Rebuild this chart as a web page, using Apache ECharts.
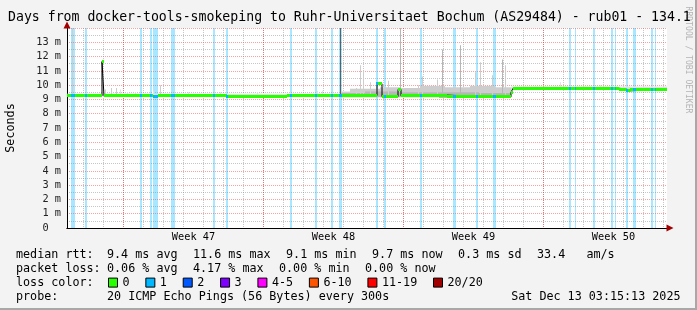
<!DOCTYPE html>
<html><head><meta charset="utf-8">
<script src="https://cdn.jsdelivr.net/npm/echarts@6/dist/echarts.min.js"></script>
<style>html,body{margin:0;padding:0;background:#f3f3f3}#c{width:697px;height:310px}</style>
</head><body><div id="c"></div>
<script>
// ---------- data (x = days since the left edge of the 30-day window) ----------
const titleText = 'Days from docker-tools-smokeping to Ruhr-Universitaet Bochum (AS29484) - rub01 - 134.1';
const xMax = 30;
const yMax = 14;
const firstMidnight = 0.825;
const sundays = [2.825, 9.825, 16.825, 23.825];
const weekNames = ['Week 47', 'Week 48', 'Week 49', 'Week 50'];
const weekCenters = [6.325, 13.325, 20.325, 27.325];

// median rtt (ms) as [startDay, endDay, value]
const medianSegs = [
  [0, 1.75, 9.25], [1.75, 1.85, 11.65], [1.85, 4.3, 9.25], [4.3, 4.55, 9.22], [4.55, 8.0, 9.26],
  [8.0, 11.0, 9.23], [11.0, 13.65, 9.25], [13.65, 15.5, 9.27], [15.5, 15.75, 10.1], [15.75, 16.55, 9.2],
  [16.55, 16.7, 9.7], [16.7, 18.0, 9.25], [18.0, 19.0, 9.3], [19.0, 21.0, 9.2], [21.0, 22.2, 9.18],
  [22.2, 22.3, 9.5], [22.3, 27.6, 9.78], [27.6, 28.0, 9.72], [28.0, 28.15, 9.6], [28.15, 30, 9.72]
];
// packet loss periods [startDay, endDay, lost pings of 20]
const lossBands = [
  [0.2, 0.4, 1], [0.9, 1.0, 1], [3.65, 3.75, 1], [4.15, 4.25, 1], [4.3, 4.55, 1], [5.2, 5.4, 1],
  [7.3, 7.4, 1], [7.95, 8.05, 1], [11.15, 11.25, 1], [12.4, 12.5, 1], [13.2, 13.3, 1], [13.6, 13.75, 1],
  [15.45, 15.55, 1], [15.85, 15.95, 1], [17.65, 17.75, 1], [19.3, 19.45, 1], [20.45, 20.55, 1], [21.3, 21.45, 1],
  [25.1, 25.2, 1], [25.4, 25.45, 1], [26.3, 26.4, 1], [27.2, 27.3, 1], [27.4, 27.45, 1], [27.95, 28.05, 1],
  [28.3, 28.45, 1], [29.2, 29.3, 1], [29.4, 29.45, 1]
];
// smoke (ping spread) bands [startDay, endDay, lowMs, highMs, shade]
const smokeSpans = [
  [0, 13.65, 9.2, 9.4, 0],
  [13.65, 14.15, 9.2, 9.55, 1], [14.15, 15.65, 9.2, 9.75, 1], [15.65, 16.65, 9.15, 9.85, 1], [16.65, 17.65, 9.2, 9.8, 1],
  [17.65, 18.9, 9.2, 9.95, 1], [18.9, 20.15, 9.15, 9.85, 1], [20.15, 21.4, 9.15, 9.95, 1], [21.4, 22.2, 9.1, 9.85, 1],
  [13.65, 14.9, 9.15, 9.45, 2], [14.9, 16.6, 9.15, 9.55, 2], [16.6, 18.6, 9.15, 9.5, 2], [18.6, 20.6, 9.1, 9.5, 2], [20.6, 22.2, 9.1, 9.45, 2],
  [22.2, 30, 9.7, 9.9, 0]
];
// smoke spikes [day, highMs, shade]
const smokeSpikes = [
  [0.25, 14, 1], [1.9, 9.7, 1], [2.2, 9.8, 1], [2.45, 9.8, 1], [2.65, 9.7, 0], [3.0, 9.5, 0], [3.4, 9.5, 0],
  [4.3, 9.6, 0], [4.65, 10.0, 1], [6.05, 9.5, 0], [7.65, 9.5, 0], [9.5, 9.5, 0], [11.15, 9.5, 0], [12.5, 9.6, 0],
  [12.75, 9.6, 0], [13.65, 14, 3], [14.45, 9.8, 1], [14.65, 11.4, 1], [14.8, 11.0, 1], [15.15, 10.2, 1],
  [16.05, 10.3, 1], [16.65, 14, 2], [17.55, 10.0, 1], [17.75, 10.6, 1], [18.5, 10.4, 1], [18.75, 12.5, 2],
  [19.65, 12.8, 2], [20.4, 10.9, 1], [20.65, 11.6, 1], [21.25, 10.7, 1], [21.75, 11.8, 2], [21.9, 11.4, 1],
  [24.65, 10.2, 0], [26.65, 10.0, 0]
];
const lossLevels = ['0', '1', '2', '3', '4-5', '6-10', '11-19', '20/20'];
const lossColors = ['#26ff00', '#00b8ff', '#0059ff', '#7e00ff', '#ff00ff', '#ff5500', '#ff0000', '#a10000'];
const smokeShades = ['#e0e0e0', '#cdcdcd', '#b6b6b6', '#606060'];
const rttStats = ['9.4 ms avg', '11.6 ms max', '9.1 ms min', '9.7 ms now', '0.3 ms sd', '33.4   am/s'];
const lossStats = ['0.06 % avg', '4.17 % max', '0.00 % min', '0.00 % now'];
const probeText = '20 ICMP Echo Pings (56 Bytes) every 300s';
const stampText = 'Sat Dec 13 03:15:13 2025';

// ---------- helpers ----------
const MONO = 'DejaVu Sans Mono';
const dayLines = [];
for (let d = firstMidnight; d < xMax; d += 1) dayLines.push(+d.toFixed(3));
function medianAt(d) {
  for (const s of medianSegs) if (d >= s[0] && d < s[1]) return s[2];
  return medianSegs[medianSegs.length - 1][2];
}
const medianLine = [];
medianSegs.forEach(s => { medianLine.push([s[0], s[2]], [s[1], s[2]]); });

const chart = echarts.init(document.getElementById('c'), null, {renderer: 'canvas'});

function rectBetween(api, x0, y0, x1, y1) {
  const a = api.coord([x0, y1]);
  const b = api.coord([x1, y0]);
  return {x: a[0], y: a[1], width: b[0] - a[0], height: b[1] - a[1]};
}
function bandRect(api, x0, x1, v) {
  const a = api.coord([x0, v]);
  const b = api.coord([x1, v]);
  const yc = Math.floor(a[1]);
  return {x: Math.round(a[0]), y: yc - 1, width: Math.max(1, Math.round(b[0]) - Math.round(a[0])), height: 3};
}

// legend text rows
const charW = 7.06, itemGap = 15.4, fs = 11.73;
function row(label, items, y) {
  const els = [{type: 'text', x: 16, y: y, style: {text: label, font: fs + 'px "' + MONO + '"', fill: '#000', verticalAlign: 'middle'}}];
  let x = 107;
  items.forEach(t => {
    els.push({type: 'text', x: x, y: y, style: {text: t, font: fs + 'px "' + MONO + '"', fill: '#000', verticalAlign: 'middle'}});
    x += t.length * charW + itemGap;
  });
  return els;
}
const graphics = [].concat(
  row('median rtt:', rttStats, 254.5),
  row('packet loss:', lossStats, 268.5),
  row('loss color:', [], 282.5),
  row('probe:', [probeText], 296.5),
  [
    {type: 'text', x: 680.5, y: 296.5, style: {text: stampText, font: fs + 'px "' + MONO + '"', fill: '#000', align: 'right', verticalAlign: 'middle'}},
    {type: 'text', x: 11, y: 128, rotation: Math.PI / 2, style: {text: 'Seconds', font: fs + 'px "' + MONO + '"', fill: '#000', align: 'center', verticalAlign: 'middle'}},
    {type: 'text', x: 688, y: 60, rotation: -Math.PI / 2, style: {text: 'RRDTOOL / TOBI OETIKER', font: '8.07px "' + MONO + '"', fill: '#b4b4b4', align: 'center', verticalAlign: 'middle'}},
    {type: 'polyline', shape: {points: [[696, 0], [696, 309], [0, 309]]}, style: {stroke: '#a8a8a8', lineWidth: 2, fill: null}}
  ]
);

const gridRed = {color: 'rgba(255,0,0,0.38)', type: [1, 1], width: 1};
const gridGrey = {color: 'rgba(128,128,128,0.45)', type: [1, 1], width: 1};

const option = {
  animation: false,
  backgroundColor: '#f3f3f3',
  title: {
    text: titleText, left: 8, top: 11, padding: 0,
    textStyle: {fontFamily: MONO, fontSize: 13.2, fontWeight: 'normal', color: '#000'}
  },
  legend: {
    data: lossLevels, left: 108, top: 276.6, padding: 0, icon: 'rect',
    itemWidth: 9, itemHeight: 9, itemGap: 15.8, selectedMode: false,
    itemStyle: {borderColor: '#000', borderWidth: 1},
    textStyle: {fontFamily: MONO, fontSize: fs, color: '#000'}
  },
  grid: {left: 67, top: 28, width: 600, height: 200, show: true, backgroundColor: '#fff', borderWidth: 0},
  xAxis: [
    { type: 'value', min: 0, max: xMax, position: 'bottom',
      axisLine: {show: false}, axisLabel: {show: false},
      axisTick: {show: false, customValues: dayLines},
      splitLine: {show: true, lineStyle: gridGrey} },
    { type: 'value', min: 0, max: xMax, position: 'bottom',
      axisLine: {show: true, onZero: false, lineStyle: {color: '#a00000', width: 1}, symbol: ['none', 'triangle'], symbolSize: [7, 7], symbolOffset: [0, 3]},
      axisLabel: {show: false},
      axisTick: {show: false, customValues: sundays},
      splitLine: {show: true, lineStyle: gridRed} },
    { type: 'value', min: 0, max: xMax, position: 'bottom',
      axisLine: {show: true, onZero: false, lineStyle: {color: '#000', width: 1}},
      axisTick: {show: false, customValues: weekCenters},
      axisLabel: {customValues: weekCenters, margin: 4.5, fontFamily: MONO, fontSize: 10.27, color: '#000',
        formatter: v => { const i = weekCenters.findIndex(c => Math.abs(c - v) < 1e-6); return i >= 0 ? weekNames[i] : ''; }},
      splitLine: {show: false} }
  ],
  yAxis: [
    { type: 'value', min: 0, max: yMax, interval: 1, position: 'left',
      axisLine: {show: true, onZero: false, lineStyle: {color: '#a00000'}, symbol: ['none', 'triangle'], symbolSize: [7, 7], symbolOffset: [0, 3]},
      axisTick: {show: false},
      axisLabel: {show: false},
      splitLine: {show: true, lineStyle: gridRed},
      minorTick: {show: false, splitNumber: 2},
      minorSplitLine: {show: true, lineStyle: gridGrey} },
    { type: 'value', min: 0, max: yMax, interval: 1, position: 'left',
      axisLine: {show: true, onZero: false, lineStyle: {color: '#000'}},
      axisTick: {show: false},
      axisLabel: {margin: 6, fontFamily: MONO, fontSize: 10.27, color: '#222',
        formatter: v => v === 0 ? '0  ' : (v >= yMax ? '' : v + ' m')},
      splitLine: {show: false} }
  ],
  graphic: graphics,
  series: [
    { name: '1', type: 'custom', xAxisIndex: 2, yAxisIndex: 0, clip: true, z: 1, itemStyle: {color: lossColors[1]},
      data: lossBands,
      renderItem: (p, api) => ({type: 'rect', shape: rectBetween(api, api.value(0), 0, api.value(1), yMax),
        style: {fill: 'rgba(0,184,255,0.34)'}}) },
    { name: 'smoke', type: 'custom', xAxisIndex: 2, yAxisIndex: 0, clip: true, z: 2,
      data: smokeSpans,
      renderItem: (p, api) => ({type: 'rect', shape: rectBetween(api, api.value(0), api.value(2), api.value(1), api.value(3)),
        style: {fill: smokeShades[api.value(4)]}}) },
    { name: 'spikes', type: 'custom', xAxisIndex: 2, yAxisIndex: 0, clip: true, z: 3,
      data: smokeSpikes,
      renderItem: (p, api) => { const d = api.value(0);
        return {type: 'rect', shape: rectBetween(api, d, medianAt(d), d + 0.05, api.value(1)),
          style: {fill: smokeShades[api.value(2)]}}; } },
    { name: 'median', type: 'line', xAxisIndex: 2, yAxisIndex: 0, data: medianLine, symbol: 'none', z: 4,
      lineStyle: {color: '#000', width: 1}, silent: true },
    { name: '0', type: 'custom', xAxisIndex: 2, yAxisIndex: 0, clip: true, z: 5, itemStyle: {color: lossColors[0]},
      data: medianSegs,
      renderItem: (p, api) => ({type: 'rect', shape: bandRect(api, api.value(0), api.value(1), api.value(2)), style: {fill: lossColors[0]}}) },
    { name: 'lossMedian', type: 'custom', xAxisIndex: 2, yAxisIndex: 0, clip: true, z: 6,
      data: lossBands.map(b => [b[0], b[1], medianAt((b[0] + b[1]) / 2), b[2]]),
      renderItem: (p, api) => ({type: 'rect', shape: bandRect(api, api.value(0), api.value(1), api.value(2)), style: {fill: lossColors[api.value(3)]}}) }
  ].concat(lossLevels.slice(2).map((n, i) => ({name: n, type: 'custom', xAxisIndex: 2, yAxisIndex: 0, data: [],
      itemStyle: {color: lossColors[i + 2]}, renderItem: () => null})))
};
chart.setOption(option);
</script>
</body></html>
